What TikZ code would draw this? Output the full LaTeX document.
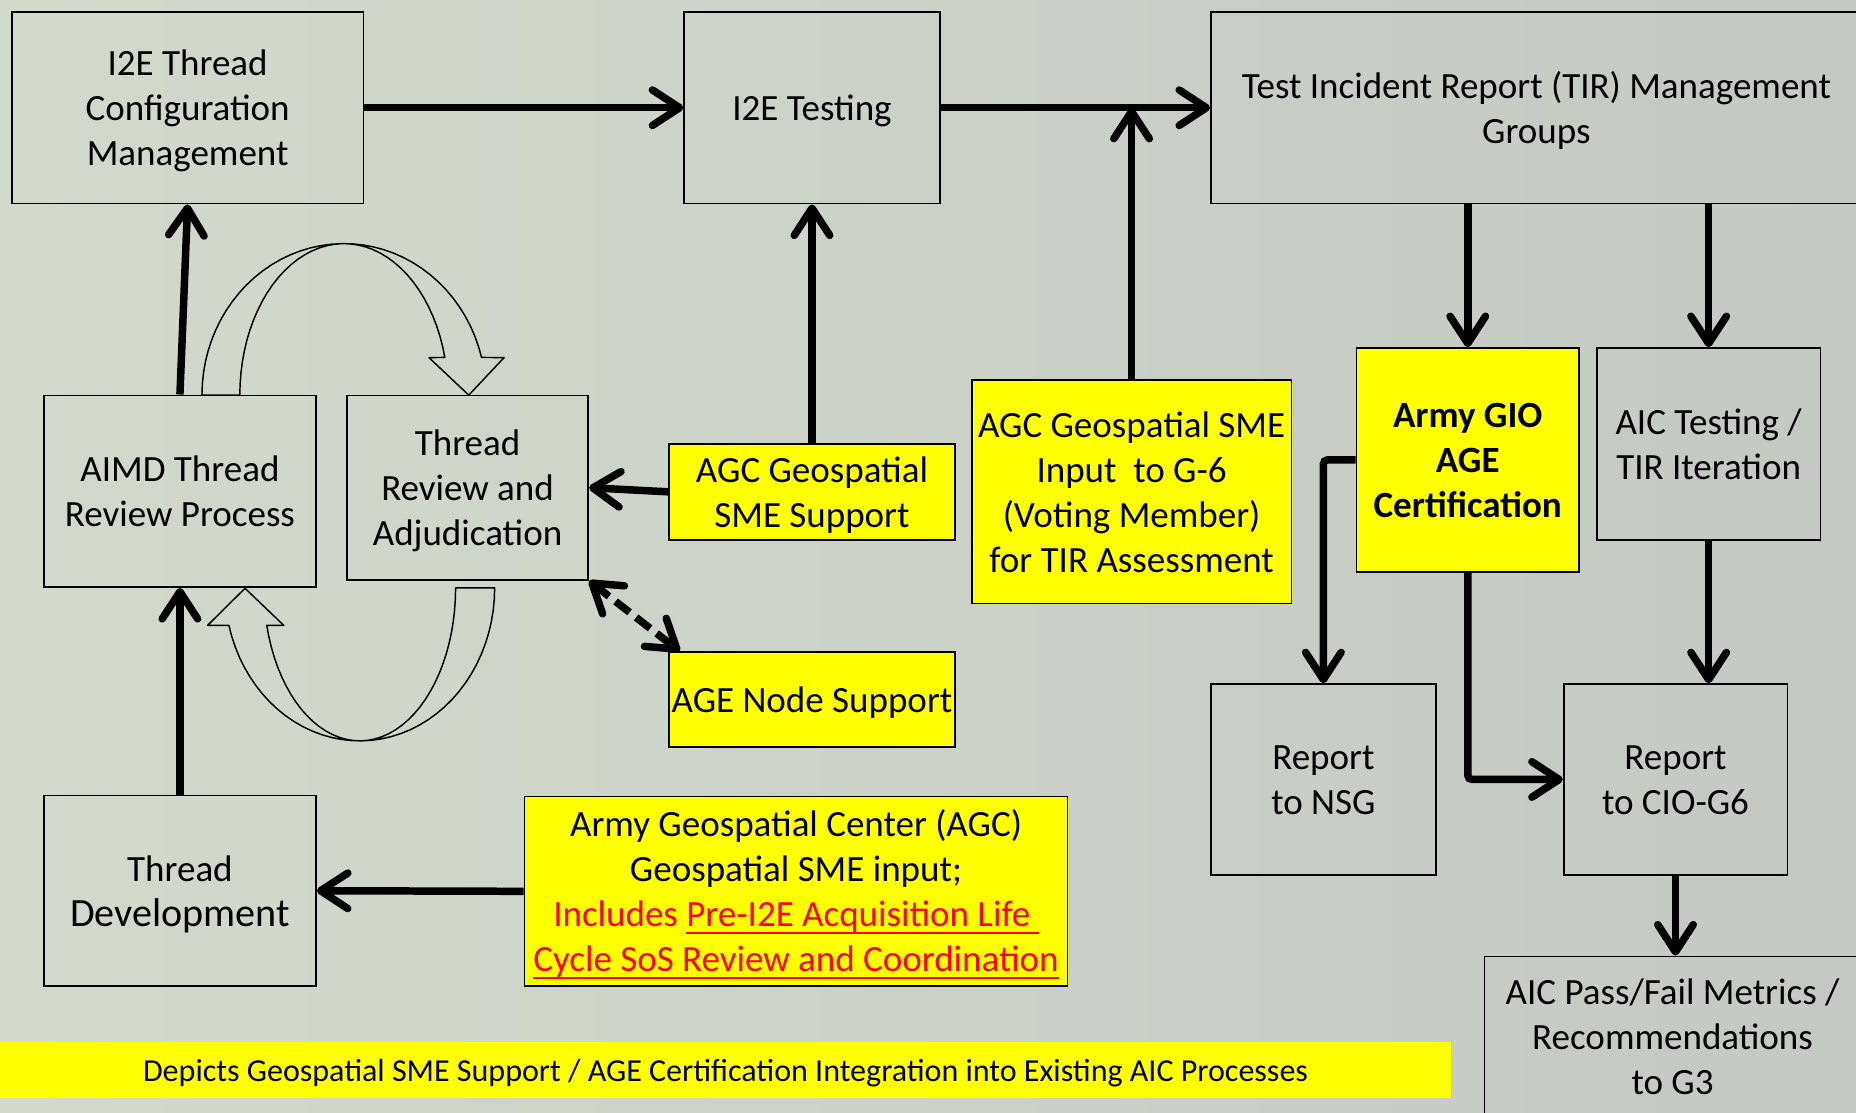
\documentclass[tikz,border=0pt]{standalone}
\usepackage{fontspec}
\setmainfont{Carlito}
\usepackage{xcolor}
\usepackage{tikz}
\usetikzlibrary{arrows.meta}

\definecolor{bgleft}{RGB}{210,218,204}
\definecolor{bgright}{RGB}{196,201,195}
\definecolor{hilite}{RGB}{255,255,0}

\newsavebox{\ulbox}
\newcommand\uln[1]{\sbox\ulbox{#1}\rlap{\rule[-3.5pt]{\wd\ulbox}{1.1pt}}\usebox\ulbox}
\newcommand\fstrut{\rule{0pt}{1em}}

\tikzset{
  txt/.style={inner sep=0pt, align=center,
    execute at end node={\rule[-0.3em]{0pt}{0pt}}},
  box/.style={txt, draw, line width=0.8pt,
    font=\fontsize{17.8}{21.6}\selectfont},
  ybox/.style={box, fill=hilite},
  flow/.style={->, line width=3.6pt},
  curl/.style={line width=0.7pt, line join=round},
}

\begin{document}
\begin{tikzpicture}[x=0.02cm,y=-0.02cm,>={Straight Barb[length=0.46cm,width=0.6cm,round]}]
\fill[left color=bgleft,right color=bgright] (0,0) rectangle (1568,940);
\useasboundingbox (0,0) rectangle (1568,940);

% top row
\node[box, minimum width=5.94cm, minimum height=3.24cm] (cfg) at (158.5,91) {\fstrut I2E Thread\\Configuration\\Management};
\node[box, minimum width=4.32cm, minimum height=3.24cm] (test) at (686,91) {\fstrut I2E Testing};
\node[box, minimum width=11cm, minimum height=3.24cm] (tir) at (1298,91) {\fstrut Test Incident Report (TIR) Management\\Groups};

% review loop
\node[box, minimum width=4.6cm, minimum height=3.24cm] (aimd) at (152,415) {\fstrut AIMD Thread\\Review Process};
\node[box, minimum width=4.08cm, minimum height=3.12cm] (thr) at (395,412) {\fstrut Thread\\Review and\\Adjudication};
\node[box, minimum width=4.6cm, minimum height=3.22cm] (tdev) at (152,752.5) {\fstrut Thread\\{\fontsize{19.3}{21.6}\selectfont Development}};

% AGC inputs
\node[ybox, minimum width=4.84cm, minimum height=1.62cm] (sme) at (686,415.5) {\fstrut AGC Geospatial\\SME Support};
\node[ybox, minimum width=4.84cm, minimum height=1.6cm] (agenode) at (686,591) {\fstrut AGE Node Support};
\node[ybox, minimum width=5.4cm, minimum height=3.78cm] (g6) at (956,415.5) {\fstrut AGC Geospatial SME\\Input\ \ to G-6\\(Voting Member)\\for TIR Assessment};
\node[ybox, minimum width=9.18cm, minimum height=3.2cm] (agc) at (672.5,753) {\fstrut Army Geospatial Center (AGC)\\Geospatial SME input;\\\textcolor{red}{Includes \uln{Pre-I2E Acquisition Life\ }}\\\textcolor{red}{\uln{Cycle SoS Review and Coordination}}};

% TIR side
\node[ybox, minimum width=3.76cm, minimum height=3.78cm, font=\fontsize{17.8}{21.6}\selectfont\bfseries] (gio) at (1240,388.5) {\fstrut Army GIO\\AGE\\Certification};
\node[box, minimum width=3.78cm, minimum height=3.24cm] (aict) at (1443.5,375) {\fstrut AIC Testing /\\TIR Iteration};
\node[box, minimum width=3.8cm, minimum height=3.22cm] (nsg) at (1118,658.5) {\fstrut Report\\to NSG};
\node[box, minimum width=3.78cm, minimum height=3.22cm] (cio) at (1415.5,658.5) {\fstrut Report\\to CIO-G6};
\node[box, minimum width=6.36cm, minimum height=2.72cm] (pf) at (1413,876) {\fstrut AIC Pass/Fail Metrics /\\Recommendations\\to G3};

\node[txt, fill=hilite, minimum width=24.52cm, minimum height=0.96cm, font=\fontsize{15.4}{18}\selectfont] (cap) at (613,904) {\fstrut Depicts Geospatial SME Support / AGE Certification Integration into Existing AIC Processes};

% connectors
\draw[flow] (cfg.east) -- (test.west);
\draw[flow] (test.east) -- (tir.west);
\draw[flow] (g6.north) -- (g6.north |- test.east);
\draw[flow] (aimd.north) -- (cfg.south);
\draw[flow] (tdev.north) -- (aimd.south);
\draw[flow] (sme.north) -- (test.south);
\draw[flow] (sme.west) -- (thr.east);
\draw[<->, line width=3.6pt, dash pattern=on 0.3cm off 0.14cm] (thr.south east) -- ([xshift=0.2cm]agenode.north west);
\draw[flow] (agc.west) -- (tdev.east);
\draw[flow] (gio.north |- tir.south) -- (gio.north);
\draw[flow] (aict.north |- tir.south) -- (aict.north);
\draw[flow, rounded corners=2pt] (gio.west) -| (nsg.north);
\draw[flow, rounded corners=2pt] (gio.south) |- (cio.west);
\draw[flow] (aict.south) -- (aict.south |- cio.north);
\draw[flow] (cio.south) -- (cio.south |- pf.north);

% curved block arrows
\draw[curl] plot[domain=180:14.4,samples=40] ({290.6+120*cos(\x)},{333.8-128*sin(\x)})
  -- (425.9,302.1) -- (396,333.8) -- (362.4,302.1)
  -- plot[domain=14.4:180,samples=40] ({290.6+88*cos(\x)},{333.8-128*sin(\x)}) -- cycle;
\draw[curl] plot[domain=0:165.8,samples=40] ({303.9+114*cos(\x)},{496.7+129.2*sin(\x)})
  -- (175.3,528.4) -- (207,497) -- (239.8,528.4)
  -- plot[domain=165.8:0,samples=40] ({303.9+81*cos(\x)},{496.7+129.2*sin(\x)}) -- cycle;
\end{tikzpicture}
\end{document}
